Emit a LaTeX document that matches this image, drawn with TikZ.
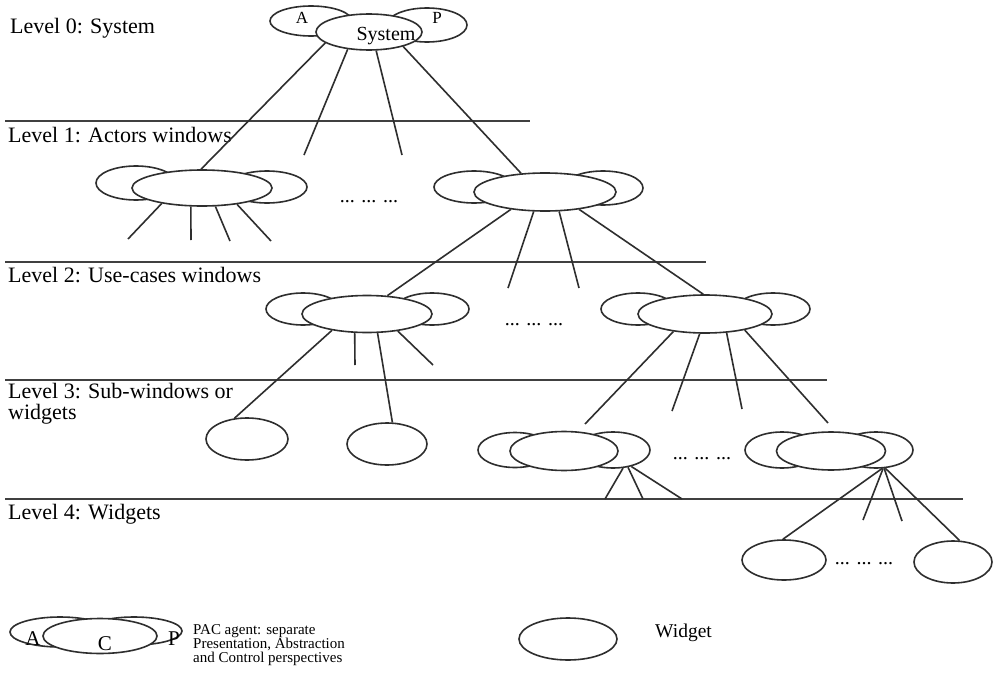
\documentclass[tikz,border=0pt]{standalone}
\usepackage{fontspec}
\setmainfont{Liberation Serif}
\usetikzlibrary{shapes.geometric}
\definecolor{ink}{HTML}{2e2e2e}
\definecolor{rulecol}{HTML}{404040}
\begin{document}
\begin{tikzpicture}[x=1pt,y=-1pt,
  ell/.style 2 args={ellipse, draw=ink, line width=1.6pt, inner sep=0pt, fill=white, minimum width=#1, minimum height=#2},
  wire/.style={draw=ink, line width=1.6pt},
  levelline/.style={draw=rulecol, line width=2.2pt},
  lvl/.style={anchor=base west, inner sep=0pt, font=\fontsize{22}{26}\selectfont},
  dotsl/.style={anchor=base, inner sep=0pt, font=\fontsize{20}{24}\selectfont},
  lbl/.style={inner sep=0pt, font=\fontsize{17}{20}\selectfont},
  legtxt/.style={anchor=base west, inner sep=0pt, font=\fontsize{15}{14}\selectfont}
]
\fill[white] (0,0) rectangle (994,680);
\useasboundingbox (0,0) rectangle (994,680);

% ---------- level separators ----------
\coordinate (l1s) at (5,121);  \coordinate (l1e) at (530,121);
\coordinate (l2s) at (5,262);  \coordinate (l2e) at (706,262);
\coordinate (l3s) at (5,380);  \coordinate (l3e) at (827,380);
\coordinate (l4s) at (5,499);  \coordinate (l4e) at (963,499);
\draw[levelline] (l1s) -- (l1e);
\draw[levelline] (l2s) -- (l2e);
\draw[levelline] (l3s) -- (l3e);
\draw[levelline] (l4s) -- (l4e);

% ---------- level labels ----------
\node[lvl] (t0) at (10,33) {Level 0: System};
\node[lvl] (t1) at (8,142) {Level 1: Actors windows};
\node[lvl] (t2) at (8,282) {Level 2: Use-cases windows};
\node[lvl] (t3a) at (8,398) {Level 3: Sub-windows or};
\node[lvl] (t3b) at (8,419) {widgets};
\node[lvl] (t4) at (8,519) {Level 4: Widgets};

% ---------- level 0: system agent ----------
\node[ell={82pt}{30pt}] (s0a) at (311,21) {};
\node[ell={80pt}{34pt}] (s0p) at (427,25) {};
\node[ell={106pt}{36pt}] (s0c) at (369,32) {};
\node[lbl] (s0at) at (302,18) {A};
\node[lbl] (s0pt) at (437,18) {P};
\node[anchor=base, inner sep=0pt, font=\fontsize{20}{24}\selectfont] (s0ct) at (386,40) {System};

% ---------- level 1 ----------
\node[ell={80pt}{34pt}] (l1aa) at (136,183) {};
\node[ell={80pt}{32pt}] (l1ap) at (267,187) {};
\node[ell={140pt}{36pt}] (l1ac) at (202,188) {};
\node[ell={80pt}{32pt}] (l1ba) at (474,187) {};
\node[ell={80pt}{34pt}] (l1bp) at (603,188) {};
\node[ell={142pt}{38pt}] (l1bc) at (545,192) {};
\node[dotsl] (d1) at (369,202) {... ... ...};

% ---------- level 2 ----------
\node[ell={74pt}{32pt}] (l2aa) at (303,309) {};
\node[ell={74pt}{32pt}] (l2ap) at (432,309) {};
\node[ell={130pt}{37pt}] (l2ac) at (367,314) {};
\node[ell={74pt}{32pt}] (l2ba) at (638,309) {};
\node[ell={74pt}{32pt}] (l2bp) at (773,309) {};
\node[ell={134pt}{38pt}] (l2bc) at (705,314) {};
\node[dotsl] (d2) at (534,325) {... ... ...};

% ---------- level 3 ----------
\node[ell={82pt}{42pt}] (w1) at (247,439) {};
\node[ell={80pt}{42pt}] (w2) at (387,444) {};
\node[ell={74pt}{35pt}] (l3aa) at (515,450) {};
\node[ell={74pt}{36pt}] (l3ap) at (613,450) {};
\node[ell={108pt}{39pt}] (l3ac) at (564,451) {};
\node[ell={74pt}{36pt}] (l3ba) at (782,450) {};
\node[ell={74pt}{36pt}] (l3bp) at (876,450) {};
\node[ell={109pt}{38pt}] (l3bc) at (831,451) {};
\node[dotsl] (d3) at (702,459) {... ... ...};

% ---------- level 4 ----------
\node[ell={84pt}{40pt}] (w3) at (784,560) {};
\node[ell={78pt}{42pt}] (w4) at (953,562) {};
\node[dotsl] (d4) at (864,564) {... ... ...};

% ---------- free line ends ----------
\coordinate (f01) at (304,155);
\coordinate (f02) at (402,155);
\coordinate (f11) at (128,239);
\coordinate (f12) at (191,240);
\coordinate (f13) at (230,241);
\coordinate (f14) at (271,241);
\coordinate (f15) at (508,288);
\coordinate (f16) at (579,288);
\coordinate (f21) at (355,365);
\coordinate (f22) at (433,365);
\coordinate (f23) at (585,424);
\coordinate (f24) at (672,411);
\coordinate (f25) at (742,409);
\coordinate (f26) at (828,423);
\coordinate (f31) at (605,499);
\coordinate (f32) at (643,499);
\coordinate (f33) at (682,499);
\coordinate (f34) at (863,520);
\coordinate (f35) at (902,521);

% ---------- connectors ----------
\draw[wire] (s0c.194) -- (l1ac.93);
\draw[wire] (s0c.219) -- (f01);
\draw[wire] (s0c.291) -- (f02);
\draw[wire] (s0c.337) -- (l1bc.142);

\draw[wire] (l1ac.201) -- (f11);
\draw[wire] (l1ac.239) -- (f12);
\draw[wire] (l1ac.306) -- (f13);
\draw[wire] (l1ac.335) -- (f14);

\draw[wire] (l1bc.207) -- (l2ac.42);
\draw[wire] (l1bc.240) -- (f15);
\draw[wire] (l1bc.306) -- (f16);
\draw[wire] (l1bc.333) -- (l2bc.95);

\draw[wire] (l2ac.205) -- (w1.121);
\draw[wire] (l2ac.237) -- (f21);
\draw[wire] (l2ac.299) -- (w2.76);
\draw[wire] (l2ac.331) -- (f22);

\draw[wire] (l2bc.209) -- (f23);
\draw[wire] (l2bc.255) -- (f24);
\draw[wire] (l2bc.319) -- (f25);
\draw[wire] (l2bc.338) -- (f26);

\draw[wire] (l3ap.299) -- (f31);
\draw[wire] (l3ap.311) -- (f32);
\draw[wire] (l3ap.318) -- (f33);

\draw[wire] (l3bp.288) -- (w3.93);
\draw[wire] (l3bp.291) -- (f34);
\draw[wire] (l3bp.294) -- (f35);
\draw[wire] (l3bp.297) -- (w4.73);

% ---------- legend ----------
\node[ell={100pt}{30pt}] (lga) at (60,632) {};
\node[ell={96pt}{28pt}] (lgp) at (134,631) {};
\node[ell={114pt}{35pt}] (lgc) at (100,636) {};
\node[anchor=base, inner sep=0pt, font=\fontsize{21}{24}\selectfont] (lgat) at (33,645) {A};
\node[anchor=base, inner sep=0pt, font=\fontsize{21}{24}\selectfont] (lgct) at (105,650) {C};
\node[anchor=base, inner sep=0pt, font=\fontsize{21}{24}\selectfont] (lgpt) at (174,645) {P};
\node[legtxt] (lt1) at (193,634) {PAC agent: separate};
\node[legtxt] (lt2) at (193,648) {Presentation, Abstraction};
\node[legtxt] (lt3) at (193,662) {and Control perspectives};

\node[ell={98pt}{42pt}] (lgw) at (568,639) {};
\node[anchor=base west, inner sep=0pt, font=\fontsize{19.5}{22}\selectfont] (lwt) at (655,637) {Widget};
\end{tikzpicture}
\end{document}
